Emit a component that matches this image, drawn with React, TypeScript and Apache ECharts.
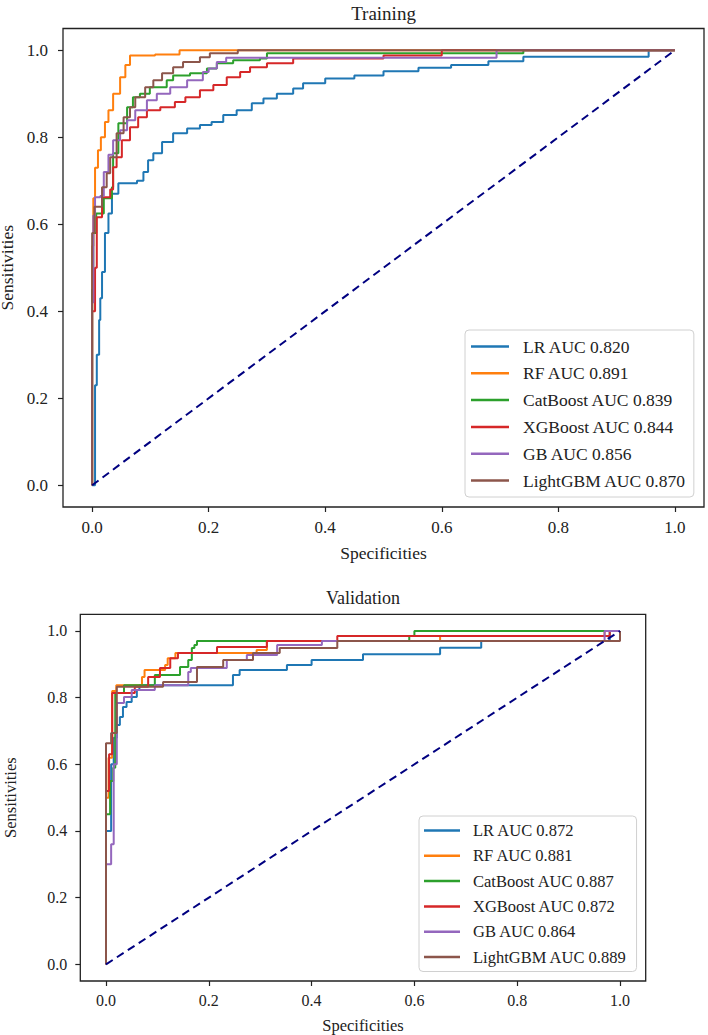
import React, { useEffect, useRef } from "react";
import * as echarts from "echarts";

const FONT = "'Liberation Serif', 'DejaVu Serif', serif";
const INK = "#222222";

const modelNames = ["LR", "RF", "CatBoost", "XGBoost", "GB", "LightGBM"];
const modelColors = ["#1f77b4", "#ff7f0e", "#2ca02c", "#d62728", "#9467bd", "#8c564b"];
const trainAUC = ["0.820", "0.891", "0.839", "0.844", "0.856", "0.870"];
const valAUC = ["0.872", "0.881", "0.887", "0.872", "0.864", "0.889"];
const axisMin = 0;
const axisMax = 1;
const tickStep = 0.2;
const diagonal = [[0, 0], [1, 1]];

// Training ROC points [1 - specificity, sensitivity]
const trainLR = [[0, 0], [0.005, 0.23], [0.008, 0.3], [0.012, 0.38], [0.014, 0.43], [0.017, 0.49], [0.022, 0.58], [0.028, 0.625], [0.034, 0.67], [0.045, 0.694], [0.077, 0.7], [0.088, 0.72], [0.096, 0.747], [0.105, 0.763], [0.12, 0.789], [0.139, 0.809], [0.163, 0.82], [0.185, 0.828], [0.205, 0.835], [0.225, 0.851], [0.248, 0.862], [0.274, 0.878], [0.294, 0.889], [0.317, 0.9], [0.345, 0.912], [0.362, 0.924], [0.4, 0.935], [0.45, 0.942], [0.5, 0.952], [0.56, 0.96], [0.616, 0.966], [0.68, 0.975], [0.74, 0.985], [0.955, 1.0], [1, 1]];
const trainRF = [[0, 0], [0, 0.55], [0.002, 0.66], [0.005, 0.73], [0.01, 0.77], [0.015, 0.8], [0.022, 0.835], [0.028, 0.862], [0.036, 0.9], [0.048, 0.938], [0.057, 0.966], [0.065, 0.988], [0.108, 0.99], [0.15, 1.0], [1, 1]];
const trainCat = [[0, 0], [0, 0.45], [0.002, 0.58], [0.007, 0.625], [0.02, 0.66], [0.034, 0.685], [0.036, 0.763], [0.045, 0.832], [0.06, 0.869], [0.07, 0.892], [0.082, 0.9], [0.099, 0.915], [0.128, 0.931], [0.139, 0.942], [0.168, 0.947], [0.197, 0.958], [0.214, 0.97], [0.242, 0.977], [0.288, 0.981], [0.3, 0.993], [0.74, 1.0], [1, 1]];
const trainXGB = [[0, 0], [0, 0.4], [0.005, 0.5], [0.008, 0.616], [0.017, 0.662], [0.031, 0.68], [0.036, 0.731], [0.042, 0.754], [0.051, 0.793], [0.065, 0.823], [0.079, 0.846], [0.094, 0.862], [0.117, 0.869], [0.142, 0.881], [0.16, 0.892], [0.185, 0.908], [0.208, 0.92], [0.231, 0.938], [0.254, 0.95], [0.271, 0.961], [0.3, 0.97], [0.345, 0.981], [0.5, 0.988], [0.6, 1.0], [1, 1]];
const trainGB = [[0, 0], [0, 0.42], [0.002, 0.62], [0.005, 0.662], [0.014, 0.665], [0.02, 0.72], [0.028, 0.76], [0.036, 0.793], [0.048, 0.816], [0.06, 0.839], [0.074, 0.862], [0.094, 0.885], [0.111, 0.9], [0.134, 0.915], [0.163, 0.931], [0.19, 0.95], [0.2, 0.958], [0.214, 0.973], [0.23, 0.983], [0.694, 1.0], [1, 1]];
const trainLGBM = [[0, 0], [0, 0.58], [0.004, 0.64], [0.017, 0.685], [0.025, 0.717], [0.031, 0.754], [0.042, 0.809], [0.054, 0.846], [0.065, 0.869], [0.074, 0.892], [0.091, 0.915], [0.105, 0.931], [0.12, 0.947], [0.139, 0.961], [0.156, 0.973], [0.185, 0.984], [0.202, 0.993], [0.25, 1.0], [1, 1]];

// Validation ROC points
const valLR = [[0, 0], [0, 0.4], [0.01, 0.6], [0.015, 0.68], [0.021, 0.718], [0.027, 0.742], [0.033, 0.772], [0.04, 0.787], [0.05, 0.802], [0.06, 0.823], [0.065, 0.837], [0.247, 0.868], [0.26, 0.883], [0.352, 0.898], [0.4, 0.913], [0.5, 0.93], [0.65, 0.95], [0.73, 0.97], [0.98, 1.0], [1, 1]];
const valRF = [[0, 0], [0, 0.5], [0.005, 0.62], [0.012, 0.82], [0.02, 0.837], [0.07, 0.862], [0.075, 0.883], [0.115, 0.898], [0.12, 0.918], [0.135, 0.934], [0.293, 0.943], [0.313, 0.97], [0.65, 0.985], [0.97, 1.0], [1, 1]];
const valCat = [[0, 0], [0, 0.45], [0.008, 0.55], [0.014, 0.59], [0.018, 0.814], [0.035, 0.837], [0.095, 0.868], [0.144, 0.892], [0.16, 0.913], [0.167, 0.949], [0.172, 0.958], [0.177, 0.97], [0.59, 0.985], [0.6, 1.0], [1, 1]];
const valXGB = [[0, 0], [0, 0.52], [0.006, 0.63], [0.012, 0.814], [0.056, 0.833], [0.082, 0.862], [0.105, 0.889], [0.125, 0.918], [0.14, 0.934], [0.216, 0.952], [0.313, 0.97], [0.45, 0.985], [0.98, 1.0], [1, 1]];
const valGB = [[0, 0], [0, 0.3], [0.01, 0.36], [0.015, 0.6], [0.021, 0.784], [0.035, 0.802], [0.05, 0.823], [0.095, 0.837], [0.16, 0.877], [0.165, 0.889], [0.235, 0.913], [0.274, 0.928], [0.333, 0.958], [0.42, 0.97], [0.97, 1.0], [1, 1]];
const valLGBM = [[0, 0], [0, 0.663], [0.01, 0.694], [0.021, 0.833], [0.111, 0.847], [0.177, 0.892], [0.228, 0.913], [0.286, 0.934], [0.338, 0.949], [0.45, 0.97], [1, 1]];

const trainCurves = [trainLR, trainRF, trainCat, trainXGB, trainGB, trainLGBM];
const valCurves = [valLR, valRF, valCat, valXGB, valGB, valLGBM];

type Panel = {
  frame: { left: number; top: number; width: number; height: number };
  title: string;
  titleX: number;
  titleY: number;
  titleSize: number;
  tickSize: number;
  nameSize: number;
  xMargin: number;
  yMargin: number;
  xNameGap: number;
  yNameGap: number;
  legend: any;
  curves: number[][][];
  auc: string[];
};

const panels: Panel[] = [
  {
    frame: { left: 63, top: 28.5, width: 641, height: 478.5 },
    title: "Training",
    titleX: 383.5,
    titleY: 13,
    titleSize: 19,
    tickSize: 17,
    nameSize: 17.5,
    xMargin: 12,
    yMargin: 15,
    xNameGap: 37,
    yNameGap: 42,
    legend: { left: 465, top: 330, itemWidth: 38, itemGap: 5.8, lineHeight: 21, fontSize: 17.5, padding: [6, 8, 6, 6], textPad: 9 },
    curves: trainCurves,
    auc: trainAUC,
  },
  {
    frame: { left: 80.3, top: 614.3, width: 565.4, height: 366.7 },
    title: "Validation",
    titleX: 363,
    titleY: 598,
    titleSize: 18,
    tickSize: 16,
    nameSize: 16.5,
    xMargin: 11,
    yMargin: 13,
    xNameGap: 36,
    yNameGap: 61,
    legend: { left: 419, top: 816, itemWidth: 36, itemGap: 5.3, lineHeight: 20, fontSize: 16.5, padding: [4.5, 10, 4.5, 5], textPad: 8 },
    curves: valCurves,
    auc: valAUC,
  },
];

// the frame spans data range [-0.05, 1.05]; the grid covers [0, 1]
const PAD = 0.05;

function buildOption() {
  const grid: any[] = [];
  const xAxis: any[] = [];
  const yAxis: any[] = [];
  const legend: any[] = [];
  const series: any[] = [];
  const graphic: any[] = [];

  panels.forEach((p, gi) => {
    const f = p.frame;
    const span = axisMax - axisMin + 2 * PAD;
    const ux = f.width / span;
    const uy = f.height / span;
    const offX = ux * PAD;
    const offY = uy * PAD;
    grid.push({
      left: f.left + offX,
      top: f.top + offY,
      width: f.width - 2 * offX,
      height: f.height - 2 * offY,
      show: false,
      containLabel: false,
      outerBoundsMode: "none",
    });
    graphic.push({
      type: "rect",
      silent: true,
      z: 50,
      shape: { x: f.left, y: f.top, width: f.width, height: f.height },
      style: { fill: "none", stroke: INK, lineWidth: 1.3 },
    });

    const label = (margin: number) => ({
      show: true,
      formatter: (v: number) => Number(v).toFixed(1),
      color: INK,
      fontSize: p.tickSize,
      fontFamily: FONT,
      margin,
      showMinLabel: true,
      showMaxLabel: true,
    });
    const common = {
      type: "value",
      gridIndex: gi,
      min: axisMin,
      max: axisMax,
      interval: tickStep,
      splitLine: { show: false },
      axisLine: { show: false, onZero: false },
      axisTick: {
        show: true,
        inside: false,
        length: 5,
        lineStyle: { color: INK, width: 1.2 },
      },
      nameLocation: "middle",
      nameTextStyle: { fontSize: p.nameSize, color: INK, fontFamily: FONT },
    };
    xAxis.push({
      ...common,
      position: "bottom",
      offset: offY,
      name: "Specificities",
      nameGap: p.xNameGap,
      axisLabel: label(p.xMargin),
    });
    yAxis.push({
      ...common,
      position: "left",
      offset: offX,
      name: "Sensitivities",
      nameGap: p.yNameGap,
      axisLabel: label(p.yMargin),
    });

    const names = modelNames.map((m, i) => `${m} AUC ${p.auc[i]}`);
    p.curves.forEach((curve, i) => {
      series.push({
        type: "line",
        name: names[i],
        xAxisIndex: gi,
        yAxisIndex: gi,
        data: curve,
        step: "end",
        symbol: "none",
        showSymbol: false,
        clip: false,
        color: modelColors[i],
        lineStyle: { color: modelColors[i], width: 2 },
        z: 2 + i,
      });
    });
    series.push({
      type: "line",
      name: `diag${gi}`,
      xAxisIndex: gi,
      yAxisIndex: gi,
      data: diagonal,
      symbol: "none",
      showSymbol: false,
      clip: false,
      color: "#000080",
      lineStyle: { color: "#000080", width: 2, type: [8, 5] },
      z: 10,
    });

    const L = p.legend;
    legend.push({
      data: names.map((n, i) => ({ name: n, icon: "rect", itemStyle: { color: modelColors[i] } })),
      orient: "vertical",
      left: L.left,
      top: L.top,
      itemWidth: L.itemWidth,
      itemHeight: 2.5,
      itemGap: L.itemGap,
      padding: L.padding,
      selectedMode: false,
      backgroundColor: "rgba(255,255,255,0.85)",
      borderColor: "#d0d0d0",
      borderWidth: 1,
      borderRadius: 4,
      textStyle: {
        fontSize: L.fontSize,
        lineHeight: L.lineHeight,
        color: INK,
        fontFamily: FONT,
        padding: [0, 0, 0, L.textPad],
      },
      z: 20,
    });

    graphic.push({
      type: "text",
      x: p.titleX,
      y: p.titleY,
      style: {
        text: p.title,
        fontSize: p.titleSize,
        fontFamily: FONT,
        fill: INK,
        align: "center",
        verticalAlign: "middle",
      },
    });
  });

  return {
    animation: false,
    backgroundColor: "#ffffff",
    textStyle: { fontFamily: FONT },
    grid,
    xAxis,
    yAxis,
    legend,
    series,
    graphic,
  };
}

export default function App() {
  const ref = useRef<HTMLDivElement>(null);
  useEffect(() => {
    if (!ref.current) return;
    const chart = echarts.init(ref.current, undefined, { renderer: "svg" });
    chart.setOption(buildOption() as any);
    return () => chart.dispose();
  }, []);
  return (
    <div
      ref={ref}
      style={{ position: "absolute", left: 0, top: 0, width: 708, height: 1035, background: "#fff" }}
    />
  );
}
